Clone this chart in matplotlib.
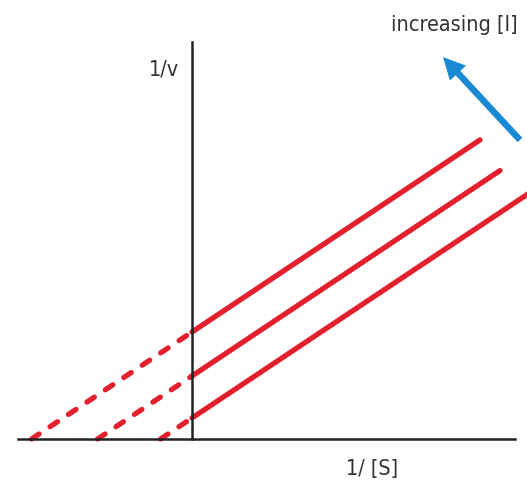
import matplotlib.pyplot as plt
import numpy as np

plt.rcParams['font.family'] = ['DejaVu Sans']
plt.rcParams['font.stretch'] = 'condensed'

# Lineweaver-Burk plot, uncompetitive inhibition (parallel lines)
slope = 0.667
intercepts = [1.07, 0.63, 0.21]     # 1/v intercepts, top to bottom
x_ends = [2.88, 3.08, 3.45]         # where the solid lines stop

fig = plt.figure(figsize=(5.27, 4.98), dpi=100)
ax = fig.add_axes([0, 0, 1, 1])
ax.set_xlim(-1.92, 3.35)
ax.set_ylim(-0.59, 4.39)
ax.axis('off')

red = '#e3202c'
for b, xe in zip(intercepts, x_ends):
    x0 = -b / slope
    # extrapolated part (dashed)
    ax.plot([x0, 0], [0, b], color=red, lw=3.8, ls=(0, (1.7, 2.5)),
            dash_capstyle='round', zorder=2)
    # measured part (solid)
    ax.plot([0, xe], [b, b + slope * xe], color=red, lw=3.8,
            solid_capstyle='round', zorder=2)

# axes lines
ax.plot([-1.74, 3.23], [0, 0], color='#222222', lw=1.8, zorder=3)
ax.plot([0, 0], [0, 3.97], color='#222222', lw=1.8, zorder=3)

ax.text(-0.13, 3.69, '1/v', ha='right', va='center', fontsize=15.5, color='#333333')
ax.text(1.8, -0.3, '1/ [S]', ha='center', va='center', fontsize=15.5, color='#333333')
ax.text(3.26, 4.14, 'increasing [I]', ha='right', va='center', fontsize=15.5, color='#333333')

# arrow pointing towards increasing inhibitor
ax.arrow(3.28, 2.99, -0.77, 0.83, width=0.065, head_width=0.22,
         head_length=0.22, length_includes_head=True, color='#1a8ad4', lw=0)

fig.savefig('out.png', dpi=100)
